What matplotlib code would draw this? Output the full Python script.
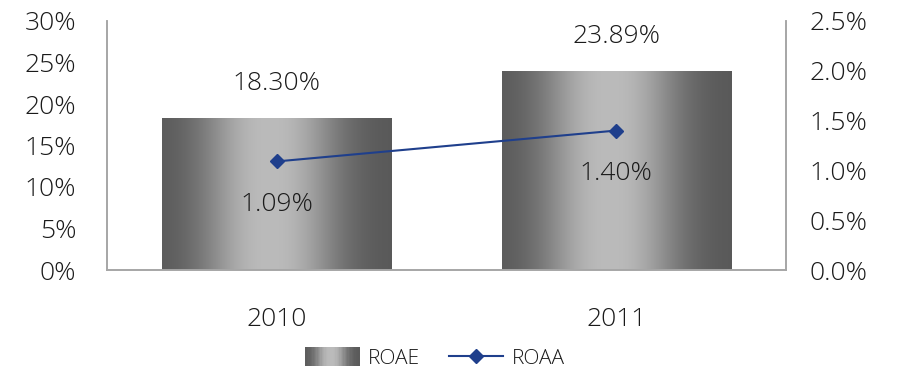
import numpy as np
import matplotlib
matplotlib.use("Agg")
import matplotlib.pyplot as plt
from matplotlib.colors import LinearSegmentedColormap
from matplotlib.patches import Rectangle
from matplotlib.lines import Line2D
from matplotlib.legend_handler import HandlerBase

plt.rcParams['font.family'] = ['Open Sans', 'DejaVu Sans']
plt.rcParams['font.weight'] = 'light'

years = ["2010", "2011"]
roae = [18.30, 23.89]   # %
roaa = [1.09, 1.40]     # %
roae_labels = ["18.30%", "23.89%"]
roaa_labels = ["1.09%", "1.40%"]

left_ticks = [0, 5, 10, 15, 20, 25, 30]
right_ticks = [0.0, 0.5, 1.0, 1.5, 2.0, 2.5]

line_color = "#1f3f8c"
spine_color = "#a6a6a6"
text_color = "#1a1a1a"

# smooth cylinder-style shading: dark edges, broad bright band in the middle
t = np.linspace(0, 1, 41)
lum = (0x58 + (0xbb - 0x58) * np.exp(-(np.abs(t - 0.47) / 0.29) ** 2.4)) / 255.0
shade = LinearSegmentedColormap.from_list(
    "shade", [(ti, (l, l, l)) for ti, l in zip(t, lum)])
grad = np.linspace(0, 1, 1024).reshape(1, -1)

fig = plt.figure(figsize=(8.97, 3.73), dpi=100)
ax = fig.add_axes([107 / 897, 103 / 373, 679 / 897, 249 / 373])
ax2 = ax.twinx()

x = np.arange(len(years))
bar_w = 0.675

for xi, v in zip(x, roae):
    ax.imshow(grad, cmap=shade, aspect="auto", interpolation="bilinear",
              extent=[xi - bar_w / 2, xi + bar_w / 2, 0, v], zorder=2)

ax.set_xlim(-0.5, 1.5)
ax.set_ylim(0, 30)
ax.set_yticks(left_ticks)
ax.set_yticklabels([f"{t}%" for t in left_ticks])
ax.set_xticks(x)
ax.set_xticklabels(years)

ax2.set_ylim(0, 2.5)
ax2.set_yticks(right_ticks)
ax2.set_yticklabels([f"{t:.1f}%" for t in right_ticks])

ax2.plot(x, roaa, color=line_color, lw=1.5, marker="D", ms=7,
         markerfacecolor=line_color, markeredgecolor=line_color, zorder=5)

for a in (ax, ax2):
    a.tick_params(length=0, labelsize=19, colors=text_color)
    a.spines["top"].set_visible(False)
    for s in ("left", "right", "bottom"):
        a.spines[s].set_color(spine_color)
        a.spines[s].set_linewidth(1.2)
ax.tick_params(axis="x", pad=27)
ax.tick_params(axis="y", pad=22)
ax2.tick_params(axis="y", pad=17)

for xi, v, lab in zip(x, roae, roae_labels):
    ax.annotate(lab, (xi, v), xytext=(0, 25), textcoords="offset points",
                ha="center", va="center", fontsize=19, color=text_color)
for xi, v, lab in zip(x, roaa, roaa_labels):
    ax2.annotate(lab, (xi, v), xytext=(0, -31), textcoords="offset points",
                 ha="center", va="center", fontsize=19, color=text_color)


class GradientHandler(HandlerBase):
    def create_artists(self, legend, orig_handle, xdescent, ydescent,
                       width, height, fontsize, trans):
        n = 40
        arts = []
        for i in range(n):
            r = Rectangle((-xdescent + width * i / n, -ydescent), width / n + 0.3,
                          height, facecolor=shade((i + 0.5) / n),
                          edgecolor="none", transform=trans)
            arts.append(r)
        return arts


bar_handle = Rectangle((0, 0), 1, 1)
line_handle = Line2D([], [], color=line_color, lw=1.5, marker="D", ms=7)
fig.legend([bar_handle, line_handle], ["ROAE", "ROAA"],
           handler_map={Rectangle: GradientHandler()},
           loc="center", bbox_to_anchor=(0.485, 0.04), ncol=2, frameon=False,
           fontsize=15, handlelength=2.6, handleheight=1.0, handletextpad=0.4,
           columnspacing=1.4, labelcolor=text_color)

fig.savefig("out.png", dpi=100)
